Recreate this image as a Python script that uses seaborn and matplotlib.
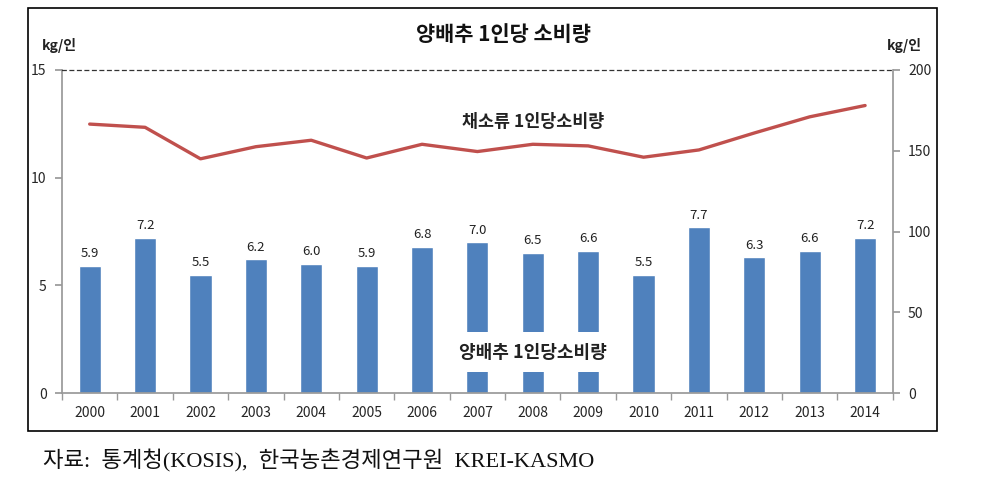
import numpy as np
import pandas as pd
import matplotlib
matplotlib.use('Agg')
import matplotlib.pyplot as plt
import seaborn as sns
from matplotlib.patches import Rectangle

sns.set_theme(style="white")
plt.rcParams['font.family'] = ['Noto Sans CJK KR', 'DejaVu Sans']

# Data
years = ['2000', '2001', '2002', '2003', '2004', '2005', '2006', '2007',
         '2008', '2009', '2010', '2011', '2012', '2013', '2014']
cabbage = [5.9, 7.2, 5.5, 6.2, 6.0, 5.9, 6.8, 7.0, 6.5, 6.6, 5.5, 7.7, 6.3, 6.6, 7.2]
vegetables = [166.5, 164.5, 145.0, 152.5, 156.5, 145.5, 154.0, 149.5,
              154.0, 153.0, 146.0, 150.5, 161.0, 171.0, 178.0]

df = pd.DataFrame({'year': years, 'cabbage': cabbage, 'veg': vegetables})

fig = plt.figure(figsize=(9.92, 4.79), dpi=100)
ax = fig.add_axes([0.0625, 0.1795, 0.8375, 0.6744])

# outer frame around the chart area
fig.patches.append(Rectangle((0.028, 0.100), 0.917, 0.883, transform=fig.transFigure,
                             fill=False, edgecolor='black', linewidth=1.2))

sns.barplot(data=df, x='year', y='cabbage', color='#4F81BD', saturation=1,
            width=0.4, ax=ax)
ax.bar_label(ax.containers[0], fmt='%.1f', padding=4, fontsize=9.5, color='#222222')
ax.set_ylim(0, 15)
ax.set_yticks([0, 5, 10, 15])
ax.set_xlim(-0.5, len(years) - 0.5)
ax.set_xlabel('')
ax.set_ylabel('')

ax2 = ax.twinx()
sns.lineplot(x=np.arange(len(years)), y=df['veg'], color='#C0504D', linewidth=2.4, ax=ax2)
ax2.set_ylim(0, 200)
ax2.set_yticks([0, 50, 100, 150, 200])
ax2.set_ylabel('')

# spines and ticks
for a in (ax, ax2):
    a.spines['top'].set_visible(False)
ax.spines['top'].set_visible(True)
ax.spines['top'].set_linestyle((0, (3, 3)))
ax.spines['top'].set_color('#333333')
ax.spines['top'].set_linewidth(0.9)
ax.spines['left'].set_color('#999999')
ax.spines['bottom'].set_color('#999999')
ax.spines['right'].set_visible(False)
ax2.spines['left'].set_visible(False)
ax2.spines['bottom'].set_visible(False)
ax2.spines['right'].set_color('#999999')

ax.tick_params(axis='y', left=True, length=5, color='#999999', labelsize=10, pad=6)
ax2.tick_params(axis='y', right=True, length=5, color='#999999', labelsize=10, pad=6)
ax.set_xticks(np.arange(-0.5, len(years), 1), minor=True)
ax.tick_params(axis='x', which='major', length=0, labelsize=10, pad=9)
ax.tick_params(axis='x', which='minor', bottom=True, length=5, color='#999999')

# annotations
ax2.text(8.0, 167.5, '채소류 1인당소비량', ha='center', va='center', fontsize=12.5,
         fontweight='bold', color='#222222')
ax.text(8.0, 1.9, '양배추 1인당소비량', ha='center', va='center', fontsize=13,
        fontweight='bold', color='#222222', zorder=10,
        bbox=dict(boxstyle='square,pad=0.6', facecolor='white', edgecolor='none'))

fig.text(0.508, 0.927, '양배추 1인당 소비량', ha='center', va='center',
         fontsize=15, fontweight='bold', color='#111111')
fig.text(0.060, 0.905, 'kg/인', ha='center', va='center', fontsize=10,
         fontweight='bold', color='#222222')
fig.text(0.912, 0.905, 'kg/인', ha='center', va='center', fontsize=10,
         fontweight='bold', color='#222222')

fig.text(0.043, 0.037, '자료:  통계청(KOSIS),  한국농촌경제연구원  KREI-KASMO',
         ha='left', va='center', fontsize=16,
         family=['Liberation Serif', 'Noto Sans CJK KR'], color='#111111')

fig.savefig('out.png', dpi=100)
